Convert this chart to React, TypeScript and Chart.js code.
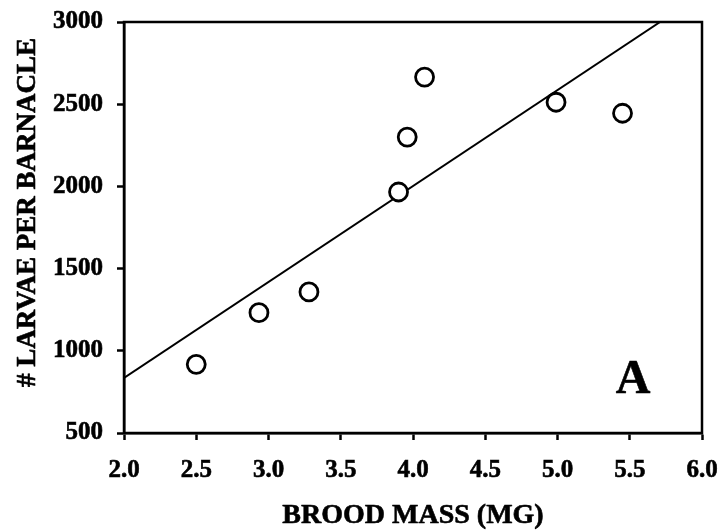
import React, { useEffect, useRef } from "react";
import { Chart, registerables } from "chart.js";

Chart.register(...registerables);

// Data
const broodMass = [2.5, 2.934, 3.28, 3.9, 3.96, 4.08, 4.99, 5.45];
const larvaePerBarnacle = [918, 1232, 1358, 1966, 2300, 2665, 2512, 2445];
const fitLineX = [2.0, 5.71];
const fitLineY = [835, 3000];

const xMin = 2.0;
const xMax = 6.0;
const xStep = 0.5;
const yMin = 500;
const yMax = 3000;
const yStep = 500;

const xTitle = "BROOD MASS (MG)";
const yTitle = "# LARVAE PER BARNACLE";
const panelLabel = "A";

const SERIF = '"Liberation Serif", "Times New Roman", serif';

function heavyText(ctx: any, text: string, x: number, y: number) {
  ctx.fillText(text, x, y);
  ctx.strokeText(text, x, y);
}

const annotPlugin = {
  id: "annot",
  afterDraw(chart: any) {
    const { ctx, chartArea: a } = chart;
    ctx.save();
    ctx.strokeStyle = "#000";
    ctx.lineWidth = 2.5;
    ctx.strokeRect(a.left, a.top, a.right - a.left, a.bottom - a.top);

    ctx.fillStyle = "#000";
    ctx.textAlign = "center";
    ctx.textBaseline = "alphabetic";
    ctx.lineWidth = 0.6;
    ctx.lineJoin = "round";

    ctx.font = `bold 28px ${SERIF}`;
    heavyText(ctx, xTitle, (a.left + a.right) / 2, a.bottom + 90);

    ctx.save();
    ctx.translate(a.left - 89, (a.top + a.bottom) / 2 - 15);
    ctx.rotate(-Math.PI / 2);
    ctx.font = `bold 27px ${SERIF}`;
    heavyText(ctx, yTitle, 0, 0);
    ctx.restore();

    ctx.font = `bold 48px ${SERIF}`;
    heavyText(ctx, panelLabel, a.right - 69, a.bottom - 40);
    ctx.restore();
  },
};

export default function App() {
  const ref = useRef<HTMLCanvasElement | null>(null);

  useEffect(() => {
    if (!ref.current) return;
    const points = broodMass.map((x, i) => ({ x, y: larvaePerBarnacle[i] }));
    const fit = fitLineX.map((x, i) => ({ x, y: fitLineY[i] }));
    const tickFont = { family: SERIF, size: 25, weight: "bold" as const };

    const chart = new Chart(ref.current, {
      type: "scatter",
      data: {
        datasets: [
          {
            type: "line",
            data: fit,
            borderColor: "#000",
            borderWidth: 2,
            pointRadius: 0,
            fill: false,
            order: 2,
          } as any,
          {
            type: "scatter",
            data: points,
            pointStyle: "circle",
            pointRadius: 9,
            pointBorderWidth: 2.8,
            pointBackgroundColor: "#fff",
            pointBorderColor: "#000",
            order: 1,
          } as any,
        ],
      },
      options: {
        responsive: false,
        animation: false,
        layout: { padding: { left: 0, top: 22, right: 20, bottom: 0 } },
        plugins: {
          legend: { display: false },
          tooltip: { enabled: false },
        },
        scales: {
          x: {
            type: "linear",
            min: xMin,
            max: xMax,
            afterFit: (s: any) => {
              s.height = 98;
              s.paddingLeft = 0;
              s.paddingRight = 0;
            },
            ticks: {
              stepSize: xStep,
              color: "#000",
              font: tickFont,
              padding: 16,
              maxRotation: 0,
              autoSkip: false,
              textStrokeColor: "#000",
              textStrokeWidth: 0.6,
              callback: (v: any) => Number(v).toFixed(1),
            },
            grid: {
              drawOnChartArea: false,
              drawTicks: true,
              tickLength: 7,
              tickWidth: 2.5,
              tickColor: "#000",
            },
            border: { display: true, color: "#000", width: 2.5 },
            title: { display: false },
          },
          y: {
            type: "linear",
            min: yMin,
            max: yMax,
            afterFit: (s: any) => {
              s.width = 124;
              s.paddingTop = 0;
              s.paddingBottom = 0;
            },
            ticks: {
              stepSize: yStep,
              color: "#000",
              font: tickFont,
              padding: 14,
              autoSkip: false,
              textStrokeColor: "#000",
              textStrokeWidth: 0.6,
              callback: (v: any) => String(v),
            },
            grid: {
              drawOnChartArea: false,
              drawTicks: true,
              tickLength: 7,
              tickWidth: 2.5,
              tickColor: "#000",
            },
            border: { display: true, color: "#000", width: 2.5 },
            title: { display: false },
          },
        },
      },
      plugins: [annotPlugin],
    });
    return () => chart.destroy();
  }, []);

  return (
    <div style={{ position: "absolute", left: 0, top: 0, width: 722, height: 531, background: "#fff" }}>
      <canvas ref={ref} width={722} height={531} style={{ width: 722, height: 531, display: "block" }} />
    </div>
  );
}
